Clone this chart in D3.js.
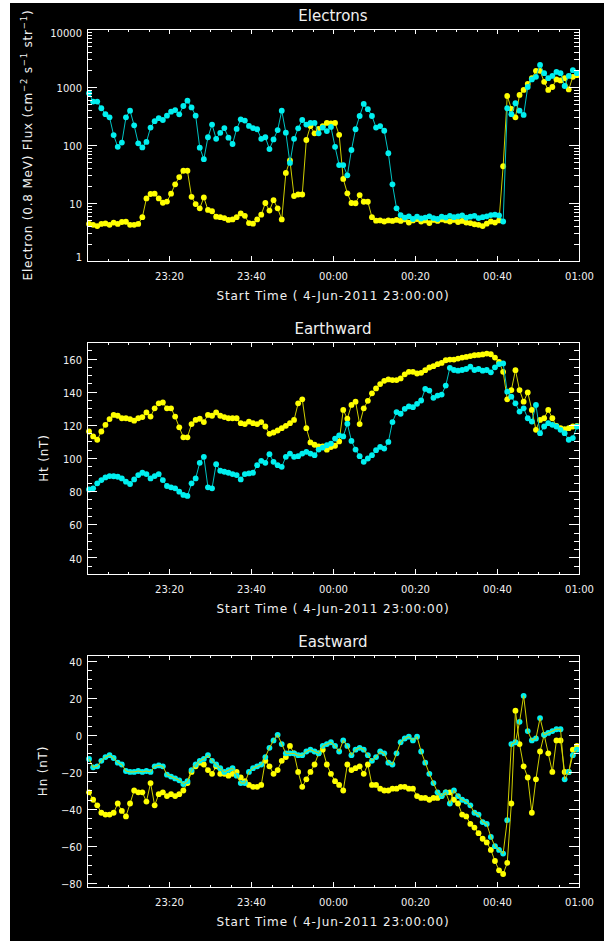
<!DOCTYPE html>
<html>
<head>
<meta charset="utf-8">
<script src="https://cdn.jsdelivr.net/npm/d3@7"></script>
<style>
  body { margin: 0; background: #fff; }
  svg { display: block; }
  text { font-family: "DejaVu Sans", sans-serif; fill: #f0f0f0; }
</style>
</head>
<body>
<svg id="chart" width="604" height="941"></svg>
<script>
// time axis: minutes after 23:00 on 4-Jun-2011, 1-min samples
const sampleOffset = 0.5;
const xTickMinutes = [20, 40, 60, 80, 100, 120];
const xTickLabels = ['23:20', '23:40', '00:00', '00:20', '00:40', '01:00'];
const xMinorStep = 5;

// Electrons, 0.8 MeV flux
const electronYellow = [
  4.35, 4.2, 4.0, 4.35, 4.45, 4.2, 4.6, 4.35, 4.7, 4.75, 4.2, 4.2, 4.35,
  5.7, 12, 14.3, 14.5, 12, 10.1, 10.6, 14.5, 21, 28, 36, 36,
  12.8, 9.6, 8.1, 12.5, 7.6, 7.2, 5.8, 5.7, 5.5, 5.1, 5.2, 5.7,
  6.6, 6.0, 4.5, 4.4, 5.2, 6.3, 10, 7.4, 11.2, 8.1, 5.2, 33,
  54, 13.2, 14, 14, 122, 212, 159, 190, 212, 240, 236, 240,
  150, 26, 14.7, 10, 9.9, 13.7, 10.5, 10.5, 5.7,
  4.95, 5.0, 4.8, 5.0, 4.9, 5.1, 4.9, 5.2, 4.6, 5.0, 5.3, 4.8, 5.0, 4.5, 5.1, 4.9,
  5.2, 5.0, 4.8, 5.1, 4.7, 4.9, 4.6, 4.5, 4.3, 4.2, 4.0, 4.4, 4.8, 4.6, 5.0,
  43, 700, 420, 300, 730, 890, 1130, 1420, 1900, 1900, 1230, 890, 1000, 1350, 1300,
  1420, 910, 1500, 1600
];
const electronCyan = [
  780, 560, 560, 430, 340, 300, 148, 93, 110, 300,
  390, 218, 107, 91, 113, 200, 258, 290, 270, 320,
  375, 400, 338, 470, 580, 445, 320, 90, 57, 136,
  225, 128, 162, 196, 134, 104, 189, 277, 264, 213,
  196, 187, 128, 136, 85, 125, 181, 390, 163, 49,
  128, 194, 270, 225, 240, 240, 159, 200, 174, 205,
  93, 45, 45, 30, 82, 187, 316, 510, 415, 316,
  200, 212, 176, 72, 21, 8.1,
  6.2, 5.6, 5.9, 5.3, 5.8, 5.4, 5.6, 5.9, 5.5, 5.3, 5.8, 5.6, 6.0, 5.7, 5.9, 6.1,
  5.6, 5.8, 6.0, 5.5, 5.7, 5.9, 6.2, 6.3, 6.1,
  4.8, 430, 340, 525, 390, 330, 1000, 1350, 1500, 2400, 1730, 1420, 1550, 1820, 1730,
  1040, 1550, 1960, 1730
];

// Earthward, Ht (nT)
const earthYellow = [
  116, 113, 111, 116, 120, 123.5, 126, 125.5, 124, 124,
  123.5, 122.5, 124, 124.7, 127.5, 125, 130, 133, 133.5, 130,
  130, 125, 118.5, 112.5, 112.5, 120.5, 123, 123.7, 121.7, 126,
  125.5, 127.5, 125.5, 124.7, 124, 124, 124, 121, 120.5, 122,
  121, 120.5, 121.7, 119, 114.6, 115.4, 116.6, 118, 119.4, 121,
  123, 133, 135.4, 118, 109.4, 108, 107, 107, 105, 106.6,
  107.4, 110, 129, 123.7, 132, 134, 120.5, 130, 134.5, 139,
  142, 144.6, 146.6, 147.4, 147, 147, 148, 150.5, 152, 152,
  151, 151.4, 153, 154.6, 155.4, 156.6, 157.4, 159, 159.4, 159.4,
  160, 160.6, 161, 161.5, 162, 162.2, 162.5, 163, 162.6, 160.6,
  158, 152, 135.4, 141, 153, 141, 134, 139.6, 129, 117,
  123, 124, 129, 124, 119.4, 118, 117.4, 118, 119, 119.4
];
const earthCyan = [
  81, 81.7, 84.7, 86.7, 88.3, 89.1, 89, 88.7, 87.7, 85.7,
  84.3, 87.1, 89.7, 91.1, 90.3, 87.7, 89.1, 90.3, 86.7, 83.1,
  82.3, 81.7, 79.7, 77.7, 77.1, 84.7, 87.7, 97.1, 100.7, 82.3,
  81.7, 96.3, 92.3, 91.7, 91.1, 90.3, 89.7, 87.1, 90.3, 90.7,
  91.1, 95.7, 98.3, 97.1, 102.3, 97.7, 95.7, 94.7, 100.7, 102.7,
  100.7, 101.1, 102.7, 103.7, 102.7, 101.7, 105.1, 106.3, 107.7, 108.7,
  111.7, 113.7, 113, 120.7, 110.3, 105.1, 101.1, 97.7, 99.7, 101.7,
  104.7, 106.7, 105.7, 109.7, 121.7, 127.7, 126.7, 129.7, 131.1, 130.7,
  132.7, 134.7, 141.7, 140.7, 136.3, 137.7, 138.3, 143.7, 154.4, 153.1,
  152.7, 153.1, 153.7, 155.1, 153.1, 153.7, 152.7, 153.1, 151.7, 154.7,
  156.7, 157.1, 140, 137, 133, 128, 130, 124, 122, 132,
  115, 119, 121, 120, 119, 117, 115, 111, 112, 119
];

// Eastward, Hn (nT)
const eastYellow = [
  -31, -35, -38, -42, -43, -43, -42, -37, -41, -44, -37, -30, -31,
  -31, -36, -26, -38, -32, -31, -33, -32, -33, -32, -30, -26,
  -20, -17, -15, -16, -19, -21, -17, -21, -21, -22,
  -21, -20, -23, -25, -27, -28, -28, -27, -14, -17,
  -21, -19, -14, -12, -6, -10, -20, -28, -24, -20,
  -16, -10, -8, -16, -21, -25, -27, -30, -16, -19,
  -18, -17, -21, -16, -27, -27, -29, -30, -30, -29,
  -29, -28, -28, -29, -29, -33, -34, -34, -35, -34,
  -34, -33, -31, -31, -35, -37, -43, -44, -48, -50,
  -53, -56, -58, -62, -68, -73, -75, -69, -37, 13,
  -5, -17, -23, -42, -24, -9, 0, -10, -20, -3,
  -3, -20, -20, -8, -6
];
const eastCyan = [
  -13, -17.5, -17, -14, -12, -11, -12.5, -15, -16, -19.5,
  -20, -20, -19.5, -20, -19.5, -20, -17, -16.5, -17, -21.5,
  -22.5, -23.5, -24.5, -26.5, -25, -19, -16, -14, -13, -11,
  -14, -16, -18, -20, -19, -18, -22, -26, -26, -20,
  -18, -17, -16, -12, -7, -3, 0, -5, -10, -10,
  -10, -11, -11, -9, -8, -9, -10, -6, -5, -4,
  -6, -9, -3, -6, -11, -8, -7, -8, -11, -14,
  -12, -9, -10, -15, -16, -10, -4, -2, -1, -3,
  -1, -9, -15, -21, -26, -31, -33, -31, -37, -30,
  -33, -35, -36, -38, -42, -43, -47, -48, -55, -60,
  -62, -64, -46, -5, -4, 7, 21, 2, -3, -2,
  9, 0, 1, 2, 3, 3, -24, -20, -11, -8
];

const fluxTicks = [1, 10, 100, 1000, 10000];
const htTicks = [40, 60, 80, 100, 120, 140, 160];
const hnTicks = [-80, -60, -40, -20, 0, 20, 40];

const YELLOW = '#ffff00', CYAN = '#00f0f0';
const YELLOW_LINE = '#d0d000', CYAN_LINE = '#00c4c4';

const svg = d3.select('#chart');
svg.append('rect')
  .attr('x', 10).attr('y', 3)
  .attr('width', 594).attr('height', 938)
  .attr('fill', '#000');

const plotLeft = 87, plotRight = 579, plotH = 232;
const minutes = electronYellow.map((v, i) => i + sampleOffset);
const x = d3.scaleLinear().domain([0, 120]).range([plotLeft, plotRight]);
const xMinor = d3.range(0, 121, xMinorStep);

function fmtMinus(d) {
  return String(d).replace('-', '\u2212');
}

function drawPanel(p) {
  const top = p.top, bottom = p.top + plotH;
  const y = p.y.range([bottom, top]);
  const g = svg.append('g');

  // data first, axes on top like the original
  p.series.forEach(s => {
    const vals = s.values;
    const line = d3.line().x((d, i) => x(minutes[i])).y(d => y(d));
    const drawLine = () => g.append('path')
      .datum(vals)
      .attr('d', line)
      .attr('fill', 'none')
      .attr('stroke', s.line)
      .attr('stroke-width', 1);
    if (!s.lineOnTop) drawLine();
    g.append('g').selectAll('circle')
      .data(vals)
      .join('circle')
      .attr('cx', (d, i) => x(minutes[i]))
      .attr('cy', d => y(d))
      .attr('r', 2.9)
      .attr('fill', s.color);
    if (s.lineOnTop) drawLine();
  });

  const ax = svg.append('g')
    .attr('font-family', '"DejaVu Sans", sans-serif')
    .attr('font-size', 12);

  function put(axis, tx, ty) {
    const a = ax.append('g').attr('transform', `translate(${tx},${ty})`).call(axis);
    a.select('.domain').remove();
    a.selectAll('line').attr('stroke', '#fff').attr('shape-rendering', 'crispEdges');
    a.selectAll('text').attr('fill', '#f0f0f0');
    return a;
  }

  // x axes
  put(d3.axisBottom(x).tickValues(xMinor).tickSize(-2.5).tickFormat(''), 0, bottom);
  put(d3.axisBottom(x).tickValues(xTickMinutes).tickSize(-5).tickPadding(11.5)
    .tickFormat((d, i) => xTickLabels[i]), 0, bottom);
  put(d3.axisTop(x).tickValues(xMinor).tickSize(-2.5).tickFormat(''), 0, top);
  put(d3.axisTop(x).tickValues(xTickMinutes).tickSize(-5).tickFormat(''), 0, top);

  // y axes
  put(d3.axisLeft(y).tickValues(p.yMinor).tickSize(-5).tickFormat(''), plotLeft, 0);
  const yl = put(d3.axisLeft(y).tickValues(p.yTicks).tickSize(-10).tickPadding(5)
    .tickFormat(fmtMinus), plotLeft, 0);
  yl.selectAll('text').attr('y', d => (p.labelShift ? p.labelShift(d) : 1.5));
  put(d3.axisRight(y).tickValues(p.yMinor).tickSize(-5).tickFormat(''), plotRight, 0);
  put(d3.axisRight(y).tickValues(p.yTicks).tickSize(-10).tickFormat(''), plotRight, 0);

  // frame
  svg.append('rect')
    .attr('x', plotLeft + 0.5).attr('y', top + 0.5)
    .attr('width', plotRight - plotLeft).attr('height', plotH)
    .attr('fill', 'none').attr('stroke', '#fff').attr('stroke-width', 1)
    .attr('shape-rendering', 'crispEdges');

  // titles
  svg.append('text')
    .attr('x', (plotLeft + plotRight) / 2).attr('y', top - 8.5)
    .attr('text-anchor', 'middle').attr('font-size', 15)
    .text(p.title);
  svg.append('text')
    .attr('x', (plotLeft + plotRight) / 2).attr('y', bottom + 38.5)
    .attr('text-anchor', 'middle').attr('font-size', 12)
    .attr('letter-spacing', 0.9)
    .text('Start Time ( 4-Jun-2011 23:00:00)');

  const yt = svg.append('text')
    .attr('transform', `translate(${p.yTitleX},${top + plotH / 2}) rotate(-90)`)
    .attr('text-anchor', 'middle').attr('font-size', 12)
    .attr('letter-spacing', 0.8);
  p.yTitle.forEach(part => {
    const ts = yt.append('tspan').text(part.t);
    if (part.sup) ts.attr('font-size', 8.5).attr('dy', -5);
    if (part.down) ts.attr('dy', 5);
  });
}

// log minor ticks 2..9 per decade
const fluxMinor = [];
fluxTicks.slice(0, -1).forEach(d => [2, 3, 4, 5, 6, 7, 8, 9].forEach(m => fluxMinor.push(d * m)));

drawPanel({
  top: 29,
  title: 'Electrons',
  y: d3.scaleLog().domain([1, 10000]),
  yTicks: fluxTicks,
  yMinor: fluxMinor,
  labelShift: d => (d === 10000 ? 4.5 : d === 1 ? -3.5 : 1.5),
  yTitleX: 31.5,
  yTitle: [
    { t: 'Electron (0.8 MeV) Flux (cm' },
    { t: '\u22122', sup: true },
    { t: ' s', down: true },
    { t: '\u22121', sup: true },
    { t: ' str', down: true },
    { t: '\u22121', sup: true },
    { t: ')', down: true }
  ],
  series: [
    { values: electronYellow, color: YELLOW, line: YELLOW_LINE },
    { values: electronCyan, color: CYAN, line: CYAN_LINE }
  ]
});

drawPanel({
  top: 342,
  title: 'Earthward',
  y: d3.scaleLinear().domain([30, 170]),
  yTicks: htTicks,
  yMinor: d3.range(30, 171, 5),
  yTitleX: 48,
  yTitle: [{ t: 'Ht (nT)' }],
  series: [
    { values: earthYellow, color: YELLOW, line: YELLOW_LINE },
    { values: earthCyan, color: CYAN, line: CYAN_LINE }
  ]
});

drawPanel({
  top: 655,
  title: 'Eastward',
  y: d3.scaleLinear().domain([-82, 43]),
  yTicks: hnTicks,
  yMinor: d3.range(-80, 41, 5),
  yTitleX: 46.5,
  yTitle: [{ t: 'Hn (nT)' }],
  series: [
    { values: eastYellow, color: YELLOW, line: YELLOW_LINE },
    { values: eastCyan, color: CYAN, line: YELLOW_LINE, lineOnTop: true }
  ]
});
</script>
</body>
</html>
